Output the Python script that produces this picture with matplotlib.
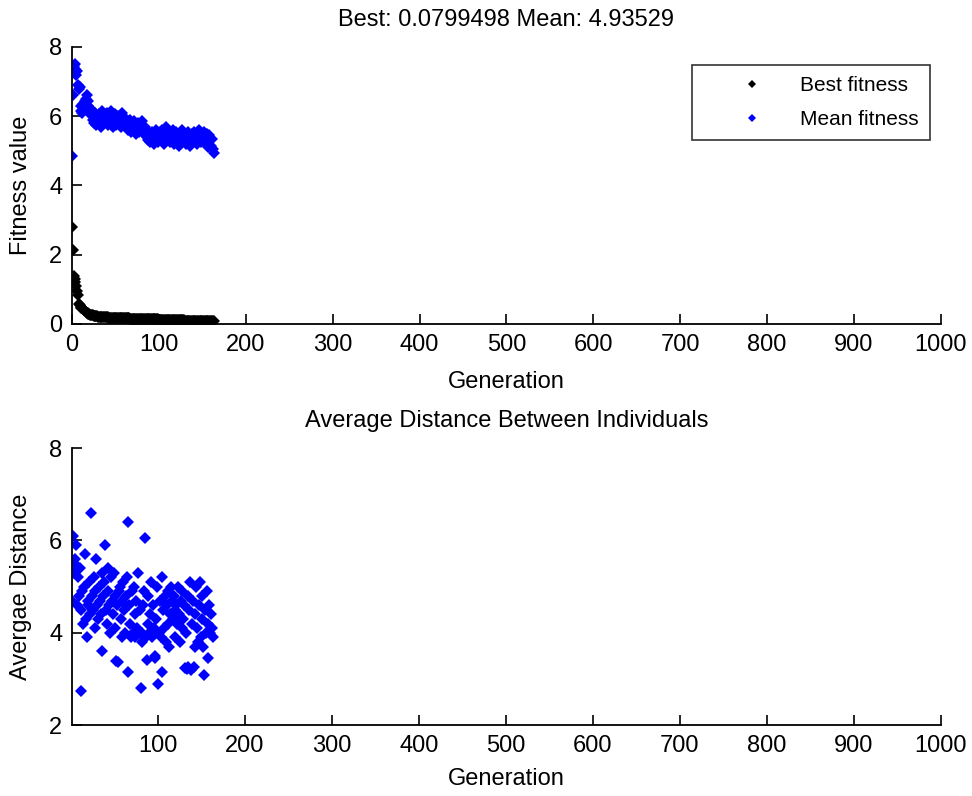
import matplotlib.pyplot as plt

plt.rcParams['font.family'] = ['Liberation Sans', 'DejaVu Sans']

# fitness per generation (0..163)
best_fit = [2.8, 2.15, 1.38, 1.3, 1.2, 1.1, 0.95, 0.85, 0.58, 0.55,
            0.5, 0.47, 0.45, 0.42, 0.4, 0.37, 0.35, 0.33, 0.31, 0.3,
            0.28, 0.27, 0.26, 0.25, 0.25, 0.24, 0.24, 0.23, 0.23, 0.22,
            0.21, 0.21, 0.2, 0.2, 0.2, 0.2, 0.19, 0.19, 0.19, 0.19,
            0.19, 0.19, 0.18, 0.18, 0.18, 0.18, 0.18, 0.18, 0.18, 0.18,
            0.18, 0.17, 0.17, 0.17, 0.17, 0.17, 0.17, 0.17, 0.17, 0.17,
            0.17, 0.17, 0.17, 0.16, 0.16, 0.16, 0.16, 0.14, 0.14, 0.14,
            0.14, 0.14, 0.14, 0.14, 0.14, 0.14, 0.14, 0.14, 0.14, 0.14,
            0.13, 0.13, 0.13, 0.13, 0.13, 0.13, 0.13, 0.13, 0.13, 0.13,
            0.13, 0.13, 0.13, 0.13, 0.13, 0.13, 0.13, 0.13, 0.13, 0.13,
            0.12, 0.12, 0.12, 0.12, 0.12, 0.12, 0.12, 0.12, 0.12, 0.12,
            0.12, 0.12, 0.12, 0.12, 0.12, 0.12, 0.12, 0.12, 0.12, 0.12,
            0.11, 0.11, 0.11, 0.11, 0.11, 0.11, 0.11, 0.11, 0.11, 0.11,
            0.1, 0.1, 0.1, 0.1, 0.1, 0.1, 0.1, 0.1, 0.1, 0.1,
            0.1, 0.1, 0.1, 0.1, 0.1, 0.1, 0.1, 0.09, 0.09, 0.09,
            0.09, 0.09, 0.09, 0.09, 0.09, 0.09, 0.09, 0.09, 0.09, 0.09,
            0.085, 0.085, 0.08, 0.0799498]

mean_fit = [4.85, 6.6, 7.45, 7.5, 7.35, 7.2, 7.3, 6.9, 6.8, 6.85,
            6.3, 6.15, 6.1, 6.35, 6.2, 6.45, 6.5, 6.6, 6.45, 6.3,
            6.25, 6.05, 6.2, 6.1, 5.9, 5.8, 5.95, 6.1, 5.75, 6.0,
            5.9, 6.05, 5.85, 5.7, 6.0, 6.15, 5.9, 5.8, 6.05, 5.95,
            6.1, 5.85, 5.75, 6.0, 5.9, 6.15, 5.8, 5.7, 5.95, 6.05,
            5.85, 5.75, 5.9, 6.0, 5.8, 5.95, 5.7, 5.85, 6.1, 5.9,
            5.8, 5.95, 5.7, 5.65, 5.85, 5.6, 5.75, 5.9, 5.55, 5.8,
            5.7, 5.6, 5.85, 5.75, 5.5, 5.65, 5.8, 5.55, 5.7, 5.6,
            5.75, 5.85, 5.65, 5.5, 5.7, 5.6, 5.4, 5.55, 5.3, 5.45,
            5.25, 5.4, 5.55, 5.3, 5.2, 5.45, 5.35, 5.6, 5.5, 5.25,
            5.4, 5.55, 5.3, 5.45, 5.6, 5.35, 5.2, 5.5, 5.7, 5.45,
            5.3, 5.55, 5.4, 5.25, 5.5, 5.35, 5.6, 5.45, 5.2, 5.4,
            5.55, 5.3, 5.45, 5.15, 5.35, 5.5, 5.25, 5.6, 5.4, 5.3,
            5.45, 5.2, 5.35, 5.55, 5.3, 5.45, 5.15, 5.4, 5.5, 5.25,
            5.35, 5.55, 5.3, 5.45, 5.2, 5.4, 5.6, 5.35, 5.5, 5.25,
            5.45, 5.3, 5.55, 5.4, 5.2, 5.5, 5.35, 5.1, 5.45, 5.3,
            5.15, 5.35, 5.05, 4.93529]

# average distance per generation (1..163)
avg_dist = [4.7, 6.1, 5.3, 5.6, 5.5, 5.9, 4.6, 5.2, 4.8, 5.4,
            4.5, 2.75, 4.9, 4.2, 5.0, 5.7, 4.3, 3.9, 4.7, 4.6,
            5.1, 4.4, 6.6, 4.8, 4.5, 5.2, 4.1, 4.9, 5.6, 4.6,
            4.3, 5.0, 4.7, 4.4, 5.3, 3.6, 4.8, 5.1, 5.9, 4.5,
            4.2, 4.9, 5.4, 4.6, 4.0, 5.2, 4.7, 4.4, 5.3, 4.8,
            4.1, 3.4, 4.6, 3.37, 4.9, 5.0, 4.3, 4.7, 3.9, 5.1,
            4.5, 4.0, 4.8, 5.2, 6.4, 3.15, 4.6, 4.2, 3.9, 4.9,
            4.0, 5.0, 4.4, 3.9, 4.7, 4.1, 5.3, 4.0, 4.5, 2.8,
            4.0, 3.8, 4.6, 4.9, 6.05, 3.9, 3.41, 4.2, 4.8, 4.0,
            4.4, 5.1, 3.9, 4.6, 4.1, 3.5, 3.45, 4.3, 5.0, 2.89,
            4.0, 4.7, 3.9, 5.2, 3.15, 4.5, 4.1, 4.8, 3.8, 4.6,
            4.9, 4.2, 3.7, 4.4, 5.0, 4.7, 4.3, 4.8, 3.9, 4.5,
            4.6, 4.2, 5.0, 4.4, 3.8, 4.7, 4.1, 4.9, 4.3, 4.6,
            3.24, 4.0, 3.22, 4.8, 3.25, 4.5, 5.1, 3.2, 4.2, 4.7,
            3.25, 4.4, 3.7, 5.0, 4.1, 3.8, 4.6, 5.1, 3.9, 4.3,
            4.8, 3.7, 3.09, 4.5, 4.0, 4.9, 3.45, 4.2, 4.6, 4.0,
            4.4, 4.1, 3.9]

gens_fit = list(range(len(best_fit)))
gens_dist = list(range(1, len(avg_dist) + 1))

fs = 17

fig = plt.figure(figsize=(9.72, 7.96), dpi=100)

def style(ax):
    ax.spines['top'].set_visible(False)
    ax.spines['right'].set_visible(False)
    ax.tick_params(direction='in', length=7, labelsize=fs, width=1.2, pad=7)
    for s in ['left', 'bottom']:
        ax.spines[s].set_linewidth(1.3)

# top: fitness
ax1 = fig.add_axes([0.074, 0.593, 0.894, 0.348])
ax1.plot(gens_fit, best_fit, 'D', color='black', markersize=6.5,
         markeredgewidth=0, label='Best fitness')
ax1.plot(gens_fit, mean_fit, 'D', color='blue', markersize=6.5,
         markeredgewidth=0, label='Mean fitness')
ax1.set_xlim(0, 1000)
ax1.set_ylim(0, 8)
ax1.set_xticks(range(0, 1001, 100))
ax1.set_yticks([0, 2, 4, 6, 8])
style(ax1)
ax1.set_title('Best: 0.0799498 Mean: 4.93529', fontsize=fs, pad=15)
ax1.set_xlabel('Generation', fontsize=fs, labelpad=11)
ax1.set_ylabel('Fitness value', fontsize=fs, labelpad=12)
leg = ax1.legend(loc='upper right', fontsize=15, frameon=True, fancybox=False,
                 edgecolor='black', markerscale=0.7, handlelength=4.6,
                 handletextpad=0.0, borderpad=0.55, labelspacing=0.7,
                 borderaxespad=0, bbox_to_anchor=(0.987, 0.935))
leg.get_frame().set_linewidth(1.2)

# bottom: average distance
ax2 = fig.add_axes([0.074, 0.089, 0.894, 0.348])
ax2.plot(gens_dist, avg_dist, 'D', color='blue', markersize=6.5,
         markeredgewidth=0)
ax2.set_xlim(1, 1000)
ax2.set_ylim(2, 8)
ax2.set_xticks(range(100, 1001, 100))
ax2.set_yticks([2, 4, 6, 8])
style(ax2)
ax2.set_title('Average Distance Between Individuals', fontsize=fs, pad=15)
ax2.set_xlabel('Generation', fontsize=fs, labelpad=8)
ax2.set_ylabel('Avergae Distance', fontsize=fs, labelpad=12)

fig.savefig('out.png', dpi=100)
